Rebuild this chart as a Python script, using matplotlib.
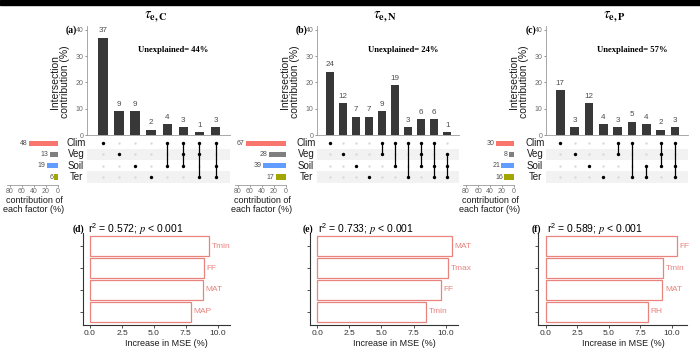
import numpy as np
import matplotlib
matplotlib.use('Agg')
import matplotlib.pyplot as plt
from matplotlib.patches import Rectangle

plt.rcParams['font.family'] = ['Liberation Sans', 'DejaVu Sans']
plt.rcParams['mathtext.fontset'] = 'stix'

# ---- data ----
sets = ['Clim', 'Veg', 'Soil', 'Ter']
set_colors = ['#F8766D', '#7F7F7F', '#619CFF', '#A3A500']

a_values = [37, 9, 9, 2, 4, 3, 1, 3]
a_combos = [['Clim'], ['Veg'], ['Soil'], ['Ter'], ['Clim', 'Soil'],
            ['Clim', 'Veg', 'Soil'], ['Clim', 'Veg', 'Ter'], ['Clim', 'Soil', 'Ter']]
a_set_sizes = [48, 13, 19, 6]
a_unexplained = 44

b_values = [24, 12, 7, 7, 9, 19, 3, 6, 6, 1]
b_combos = [['Clim'], ['Veg'], ['Soil'], ['Ter'], ['Clim', 'Veg'], ['Clim', 'Soil'],
            ['Clim', 'Ter'], ['Clim', 'Veg', 'Soil'], ['Clim', 'Soil', 'Ter'],
            ['Veg', 'Soil', 'Ter']]
b_set_sizes = [67, 28, 39, 17]
b_unexplained = 24

c_values = [17, 3, 12, 4, 3, 5, 4, 2, 3]
c_combos = [['Clim'], ['Veg'], ['Soil'], ['Ter'], ['Clim', 'Veg'], ['Clim', 'Ter'],
            ['Soil', 'Ter'], ['Clim', 'Veg', 'Soil'], ['Clim', 'Soil', 'Ter']]
c_set_sizes = [30, 8, 21, 16]
c_unexplained = 57

d_vars = ['Tmin', 'FF', 'MAT', 'MAP']
d_mse = [9.3, 8.9, 8.8, 7.9]
e_vars = ['MAT', 'Tmax', 'FF', 'Tmin']
e_mse = [10.5, 10.2, 9.6, 8.5]
f_vars = ['FF', 'Tmin', 'MAT', 'RH']
f_mse = [10.4, 9.3, 9.25, 8.1]
r2_values = ['0.572', '0.733', '0.589']

W, H = 700, 356
fig = plt.figure(figsize=(7, 3.56), dpi=100)
fig.patches.append(Rectangle((0, 1 - 5 / H), 1, 5 / H, transform=fig.transFigure,
                             color='black', zorder=10))


def px_axes(x0, y0, x1, y1):
    return fig.add_axes([x0 / W, 1 - y1 / H, (x1 - x0) / W, (y1 - y0) / H])


def ftext(x, y, s, **kw):
    return fig.text(x / W, 1 - y / H, s, **kw)


SERIF = ['Liberation Serif', 'DejaVu Serif']
ROW_TOP = 137.4
ROW_STEP = 11.32


def draw_upset(x0, x1, xs0, values, combos, set_sizes, letter, title, unexpl):
    n = len(values)
    idx = np.arange(n)
    # intersection bars
    ax = px_axes(x0, 26, x1, 135)
    ax.bar(idx, values, width=0.6, color='#383838')
    for i, v in zip(idx, values):
        ax.annotate(str(v), (i, v), xytext=(0, 2.5), textcoords='offset points',
                    ha='center', va='bottom', fontsize=5.8, color='#4D4D4D')
    ax.set_xlim(-1, n - 0.1)
    ax.set_ylim(0, 41.5)
    ax.set_yticks([0, 10, 20, 30, 40])
    ax.set_xticks([])
    for s in ['top', 'right']:
        ax.spines[s].set_visible(False)
    for s in ['left', 'bottom']:
        ax.spines[s].set_color('#9A9A9A')
        ax.spines[s].set_linewidth(0.6)
    ax.tick_params(axis='y', labelsize=5, colors='#6A6A6A', length=1.5, width=0.5, pad=1)

    # matrix
    mx = px_axes(x0, ROW_TOP, x1, ROW_TOP + 4 * ROW_STEP)
    mx.set_xlim(-1, n - 0.1)
    mx.set_ylim(3.5, -0.5)
    for r in [1, 3]:
        mx.axhspan(r - 0.5, r + 0.5, color='#F2F2F2', lw=0)
    gx, gy = np.meshgrid(idx, np.arange(4))
    mx.scatter(gx.ravel(), gy.ravel(), s=3, color='#D9D9D9', lw=0, zorder=2)
    for i, combo in enumerate(combos):
        rows = [sets.index(s) for s in combo]
        if len(rows) > 1:
            mx.plot([i, i], [min(rows), max(rows)], color='black', lw=0.9, zorder=3)
        mx.scatter([i] * len(rows), rows, s=6, color='black', lw=0, zorder=4)
    mx.axis('off')

    for r, name in enumerate(sets):
        ftext(x0 - 11, ROW_TOP + ROW_STEP * (r + 0.5), name, ha='center', va='center',
              fontsize=7, color='#1A1A1A')

    # set sizes
    sx = px_axes(xs0 - 51, ROW_TOP, xs0, 185)
    sx.set_ylim(-0.5 + (185 - ROW_TOP) / ROW_STEP, -0.5)
    sx.set_xlim(85, 0)
    sx.barh(np.arange(4), set_sizes, height=0.45, color=set_colors)
    for r, v in enumerate(set_sizes):
        sx.annotate(str(v), (v, r), xytext=(-1, 0), textcoords='offset points',
                    ha='right', va='center', fontsize=5, color='#4D4D4D')
    sx.set_xticks([80, 60, 40, 20, 0])
    sx.set_yticks([])
    for s in ['top', 'right', 'left']:
        sx.spines[s].set_visible(False)
    sx.spines['bottom'].set_color('#9A9A9A')
    sx.spines['bottom'].set_linewidth(0.6)
    sx.tick_params(axis='x', labelsize=5, colors='#6A6A6A', length=1.5, width=0.5, pad=1)
    ftext(xs0 - 24, 205, 'contribution of\neach factor (%)', ha='center', va='center',
          fontsize=6.5, color='#1A1A1A', linespacing=1.0)

    ftext(x0 - 27, 82, 'Intersection\ncontribution (%)', rotation=90, ha='center',
          va='center', fontsize=7.5, linespacing=0.95, color='#1A1A1A')
    ftext(x0 - 10, 30, letter, ha='right', va='center', fontsize=7,
          fontweight='bold', family=SERIF)
    ftext((x0 + x1) / 2 - 3, 17, title, ha='center', va='center', fontsize=10.5)
    ftext(x0 + 86, 50, 'Unexplained= %d%%' % unexpl, ha='center', va='center',
          fontsize=6.2, fontweight='bold', family=SERIF)


def draw_imp(x0, x1, xlim, names, mse, letter, r2, lx):
    ax = px_axes(x0, 233, x1, 325)
    y = np.arange(len(names))[::-1] + 1
    ax.barh(y, mse, height=0.93, facecolor='white', edgecolor='#E8837E', lw=0.9)
    for yy, v, nm in zip(y, mse, names):
        ax.text(v + 0.2, yy, nm, ha='left', va='center', fontsize=6, color='#E8837E')
    ax.set_ylim(0.4, 4.6)
    ax.set_xlim(*xlim)
    ax.set_yticks(y)
    ax.set_yticklabels([])
    ax.set_xticks([0, 2.5, 5, 7.5, 10])
    ax.set_xticklabels(['0.0', '2.5', '5.0', '7.5', '10.0'])
    for s in ['top', 'right']:
        ax.spines[s].set_visible(False)
    for s in ['left', 'bottom']:
        ax.spines[s].set_color('#333333')
        ax.spines[s].set_linewidth(0.8)
    ax.tick_params(labelsize=6, colors='#333333', length=2, width=0.6, pad=1.5)
    ax.text(0.57, -19 / 92, 'Increase in MSE (%)', transform=ax.transAxes,
            ha='center', va='center', fontsize=6.5, color='#1A1A1A')
    ftext(lx, 229, letter, ha='left', va='center', fontsize=7, fontweight='bold', family=SERIF)
    ftext(lx + 15, 229, r'$\mathregular{r^2}$ = %s; $\it{p}$ < 0.001' % r2,
          ha='left', va='center', fontsize=7.5)


draw_upset(87, 230, 58, a_values, a_combos, a_set_sizes, '(a)',
           r'$\tau_{\mathbf{e,C}}$', a_unexplained)
draw_upset(317, 459, 286, b_values, b_combos, b_set_sizes, '(b)',
           r'$\tau_{\mathbf{e,N}}$', b_unexplained)
draw_upset(546, 688, 514, c_values, c_combos, c_set_sizes, '(c)',
           r'$\tau_{\mathbf{e,P}}$', c_unexplained)

draw_imp(83, 230, (-0.55, 10.95), d_vars, d_mse, '(d)', r2_values[0], 73)
draw_imp(310, 458, (-0.55, 10.95), e_vars, e_mse, '(e)', r2_values[1], 303)
draw_imp(538, 687, (-0.6, 11.2), f_vars, f_mse, '(f)', r2_values[2], 532)

fig.savefig('out.png', dpi=100)
